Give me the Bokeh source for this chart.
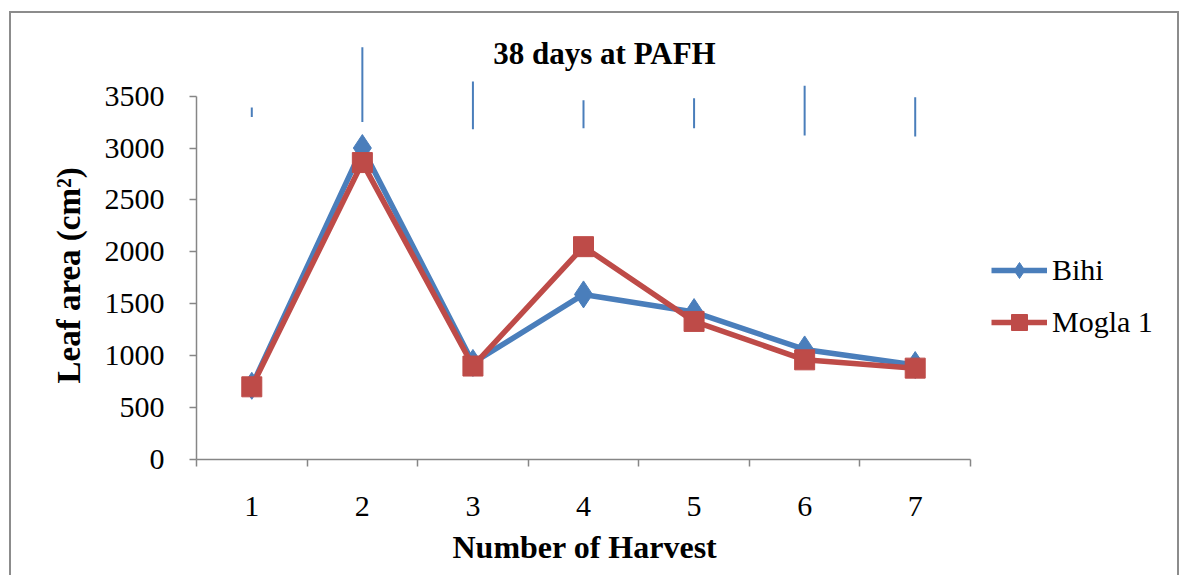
from bokeh.plotting import figure
from bokeh.models import Range1d, FixedTicker, Legend, LegendItem, Label, Title
from bokeh.embed import file_html
from bokeh.resources import INLINE

# ---- data ----
harvest = [1, 2, 3, 4, 5, 6, 7]
bihi = [710, 3000, 930, 1590, 1420, 1060, 910]
mogla1 = [700, 2860, 900, 2050, 1330, 960, 880]
# stray (upper) error-bar segments of the Bihi series
err_low = [3300, 3250, 3180, 3190, 3190, 3120, 3110]
err_high = [3390, 3970, 3640, 3460, 3480, 3600, 3490]
y_ticks = [0, 500, 1000, 1500, 2000, 2500, 3000, 3500]
series_names = ["Bihi", "Mogla 1"]
title_text = "38 days at PAFH"
x_title = "Number of Harvest"
y_title = "Leaf area (cm\u00b2)"

BLUE = "#4a7ebb"
RED = "#be4b48"
AXIS = "#868686"
FONT = "Liberation Serif"
LEGEND_SPACE = 1.854   # extra x-room (in category widths) right of the axis for the legend

p = figure(width=1189, height=575, output_backend="svg", toolbar_location=None,
           x_range=Range1d(harvest[0] - 0.5, harvest[-1] + 0.5 + LEGEND_SPACE),
           y_range=Range1d(0, 4132),
           min_border_left=196, min_border_right=14,
           min_border_top=30, min_border_bottom=116)
p.outline_line_color = None
p.xgrid.visible = False
p.ygrid.visible = False
p.background_fill_color = "white"
p.border_fill_color = "white"
p.stylesheets = [""":host { position: relative; }
:host::after { content: ""; position: absolute; left: 9px; top: 11px; right: 10px; bottom: 0px;
  border: 2px solid #8c8c8c; border-bottom: none; pointer-events: none; z-index: 1000; }"""]

# x axis: labels at centres, tick marks at category boundaries
xa = p.xaxis[0]
xa.ticker = FixedTicker(ticks=harvest,
                        minor_ticks=[h - 0.5 for h in harvest] + [harvest[-1] + 0.5])
xa.bounds = (harvest[0] - 0.5, harvest[-1] + 0.5)
xa.major_tick_line_color = None
xa.minor_tick_line_color = AXIS
xa.minor_tick_line_width = 1.5
xa.minor_tick_out = 7
xa.minor_tick_in = 0
xa.axis_line_color = AXIS
xa.axis_line_width = 1.5
xa.major_label_text_font = FONT
xa.major_label_text_font_size = "30px"
xa.major_label_text_color = "black"
xa.major_label_standoff = 30

ya = p.yaxis[0]
ya.ticker = FixedTicker(ticks=y_ticks)
ya.bounds = (y_ticks[0], y_ticks[-1])
ya.major_tick_line_color = AXIS
ya.major_tick_line_width = 1.5
ya.major_tick_out = 7
ya.major_tick_in = 0
ya.minor_tick_line_color = None
ya.axis_line_color = AXIS
ya.axis_line_width = 1.5
ya.major_label_text_font = FONT
ya.major_label_text_font_size = "30px"
ya.major_label_text_color = "black"
ya.major_label_standoff = 25

# axis titles (placed along the bounded axes)
p.add_layout(Title(text=y_title, align="left", offset=76, text_font=FONT,
                   text_font_style="bold", text_font_size="33px", text_color="black",
                   standoff=30), "left")
p.add_layout(Title(text=x_title, align="left", offset=256, text_font=FONT,
                   text_font_style="bold", text_font_size="32px", text_color="black",
                   standoff=17), "below")

# series
l1 = p.line(harvest, bihi, line_color=BLUE, line_width=5.5)
m1 = p.scatter(harvest, bihi, marker="diamond", size=27, fill_color=BLUE, line_color=BLUE)
l2 = p.line(harvest, mogla1, line_color=RED, line_width=5.5)
m2 = p.scatter(harvest, mogla1, marker="square", size=20, fill_color=RED, line_color=RED)

p.segment(x0=harvest, y0=err_low, x1=harvest, y1=err_high, line_color=BLUE, line_width=2)

p.add_layout(Label(x=4.19, y=3911, text=title_text, text_align="center",
                   text_baseline="middle", text_font=FONT, text_font_style="bold",
                   text_font_size="31px", text_color="black"))

legend = Legend(items=[LegendItem(label=series_names[0], renderers=[l1, m1]),
                       LegendItem(label=series_names[1], renderers=[l2, m2])],
                location=(795, 117), border_line_color=None, background_fill_alpha=0,
                label_text_font=FONT, label_text_font_size="30px",
                label_text_color="black", glyph_width=56, glyph_height=40,
                label_standoff=5, spacing=12, padding=10, margin=0)
p.add_layout(legend)

open("out.html", "w").write(file_html(p, INLINE))
